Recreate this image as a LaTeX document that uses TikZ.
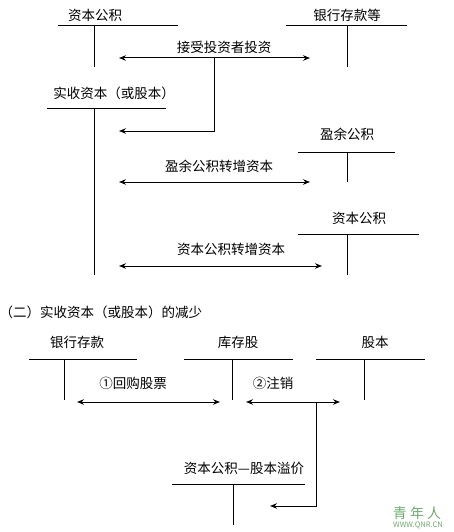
\documentclass[tikz,border=0pt]{standalone}
\usepackage{fontspec}
\setmainfont{Noto Sans CJK SC}
\usetikzlibrary{arrows.meta}
\definecolor{wmgreen}{RGB}{110,170,110}

\begin{document}
\begin{tikzpicture}[x=1pt, y=-1pt, >={Stealth[length=7pt,width=5.5pt]}, line width=1pt,
  acct/.style={inner sep=0pt, font=\fontsize{13.5}{15}\selectfont},
  lbl/.style={inner sep=0pt, font=\fontsize{13.5}{15}\selectfont}]
\useasboundingbox (0,0) rectangle (453,532);
% (一) increase
\begin{scope}
  \node[acct] (zbgj) at (95,15) {资本公积};
  \draw (58,26) -- (178,26);
  \draw (94,26) -- (94,67);
  \node[acct] (yhck) at (347,15) {银行存款等};
  \draw (286,26) -- (407,26);
  \draw (347,26) -- (347,67);
  \node[acct] (sszb) at (114,93) {实收资本（或股本）};
  \draw (47,109) -- (166,109);
  \draw (94,109) -- (94,275);
  \node[acct] (yygj) at (347,134) {盈余公积};
  \draw (298,152) -- (395,152);
  \draw (347,152) -- (347,182);
  \node[acct] (zbgj2) at (359,218) {资本公积};
  \draw (298,234) -- (419,234);
  \draw (347,234) -- (347,275);
  % flows
  \coordinate (t1a) at (119,58); \coordinate (t1b) at (310,58);
  \coordinate (t1c) at (214,58); \coordinate (t1d) at (119,131);
  \draw[<->] (t1a) -- (t1b);
  \draw[->] (t1c) |- (t1d);
  \node[lbl] (jstz) at (224,47) {接受投资者投资};
  \coordinate (t2a) at (119,182); \coordinate (t2b) at (310,182);
  \draw[<->] (t2a) -- (t2b);
  \node[lbl] (yyzz) at (219,166) {盈余公积转增资本};
  \coordinate (t3a) at (119,266); \coordinate (t3b) at (322,266);
  \draw[<->] (t3a) -- (t3b);
  \node[lbl] (zbzz) at (231,249) {资本公积转增资本};
\end{scope}
% (二) decrease
\begin{scope}
  \node[lbl, anchor=west] (title2) at (-1,312) {（二）实收资本（或股本）的减少};
  \node[acct] (yhck2) at (77,342) {银行存款};
  \draw (29,359) -- (137,359);
  \draw (64,359) -- (64,400);
  \node[acct] (kcg) at (238,342) {库存股};
  \draw (184,359) -- (293,359);
  \draw (232,359) -- (232,400);
  \node[acct] (gb) at (375,342) {股本};
  \draw (316,359) -- (425,359);
  \draw (364,359) -- (364,400);
  \node[acct] (gbyj) at (244,468) {资本公积—股本溢价};
  \draw (172,484) -- (305,484);
  \draw (233,484) -- (233,525);
  % flows
  \coordinate (t4a) at (77,402); \coordinate (t4b) at (220,402);
  \draw[<->] (t4a) -- (t4b);
  \node[lbl] (hggp) at (133,383) {①回购股票};
  \coordinate (t5a) at (246,402); \coordinate (t5b) at (340,402);
  \coordinate (t5c) at (316,402); \coordinate (t5d) at (270,506);
  \draw[<->] (t5a) -- (t5b);
  \draw[->] (t5c) |- (t5d);
  \node[lbl] (zx) at (273,383) {②注销};
\end{scope}
% watermark
\node[wmgreen, inner sep=0pt, font=\fontsize{14}{15}\selectfont] (wm1) at (417,513) {青 年 人};
\node[wmgreen, inner sep=0pt, font=\fontsize{7.5}{8}\selectfont] (wm2) at (418,525) {WWW.QNR.CN};
\end{tikzpicture}
\end{document}
